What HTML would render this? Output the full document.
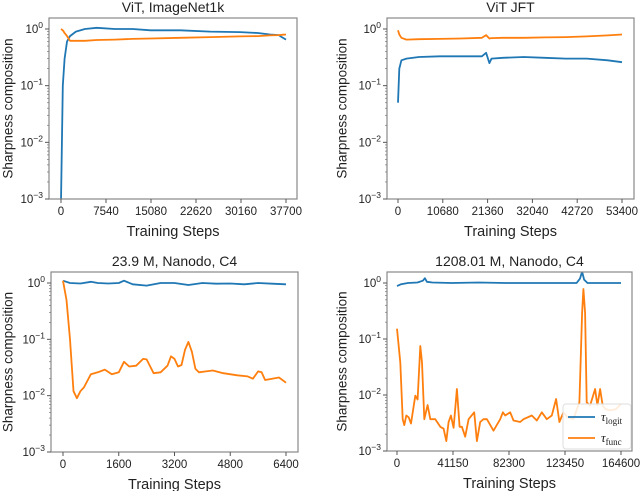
<!DOCTYPE html>
<html><head><meta charset="utf-8"><style>
body{margin:0;background:#fff;}
svg{display:block;font-family:"Liberation Sans","DejaVu Sans",sans-serif;}
</style></head><body>
<svg id="fig" width="640" height="491" viewBox="0 0 640 491"></svg>
<script>
// ---- Data (top-level arrays) ----
const vitInX=[0,300,600,1000,1500,2500,4000,6000,9000,12000,15000,20000,25000,30000,33000,35000,36500,37000,37700];
const vitInLogit=[0.0009,0.1,0.3,0.6,0.75,0.9,1.0,1.05,1.0,1.0,0.95,0.95,0.9,0.88,0.85,0.8,0.78,0.72,0.65];
const vitInFunc=[1.0,0.95,0.85,0.75,0.62,0.62,0.62,0.64,0.65,0.67,0.68,0.7,0.72,0.74,0.75,0.77,0.78,0.79,0.8];
const vitInTicks=[0,7540,15080,22620,30160,37700];

const jftX=[0,300,800,2000,5000,10000,15000,20000,21000,21800,22300,25000,30000,35000,40000,45000,50000,53400];
const jftLogit=[0.05,0.2,0.28,0.3,0.32,0.33,0.33,0.33,0.38,0.25,0.3,0.31,0.32,0.31,0.3,0.3,0.28,0.26];
const jftFunc=[0.95,0.8,0.7,0.65,0.66,0.67,0.68,0.7,0.78,0.68,0.69,0.7,0.7,0.71,0.72,0.74,0.77,0.8];
const jftTicks=[0,10680,21360,32040,42720,53400];

const smallLogitX=[0,200,500,800,1000,1300,1600,1750,2000,2400,2800,3200,3600,4000,4400,4800,5200,5600,6000,6400];
const smallLogit=[1.1,1.0,0.98,1.05,1.0,0.98,1.0,1.1,0.95,0.9,1.0,1.0,0.92,1.0,0.97,0.98,0.95,1.0,0.97,0.95];
const smallFuncX=[0,100,200,300,400,500,600,800,1000,1200,1400,1600,1750,1900,2100,2300,2400,2600,2800,3000,3100,3200,3300,3400,3500,3600,3700,3800,3900,4100,4300,4600,5000,5300,5450,5600,5700,5800,6000,6200,6400];
const smallFunc=[1.1,0.5,0.1,0.012,0.009,0.012,0.014,0.024,0.026,0.029,0.024,0.026,0.04,0.033,0.034,0.045,0.044,0.025,0.026,0.034,0.05,0.045,0.033,0.035,0.065,0.09,0.06,0.03,0.026,0.027,0.028,0.025,0.023,0.022,0.02,0.027,0.026,0.019,0.02,0.021,0.017];
const smallTicks=[0,1600,3200,4800,6400];

const bigLogitX=[0,3000,8000,15000,19000,20500,22000,26000,40000,60000,80000,100000,120000,132000,134500,136000,137500,140000,150000,164600];
const bigLogit=[0.88,0.95,1.0,1.02,1.1,1.22,1.05,1.02,1.0,1.02,1.0,1.0,1.0,1.0,1.2,1.6,1.15,1.0,1.0,1.0];
const bigFuncX=[0,2446,4158,5381,6849,8561,10273,13453,15165,17122,18345,20057,22503,24460,28129,31798,34244,36201,37913,39625,41582,44028,45985,47697,50143,52589,56747,58704,61150,63596,66042,70934,75826,77783,79495,83164,85610,90502,92948,99063,102732,106401,110070,113739,116919,119365,122300,125235,129638,134041,135998,136976,138199,139422,141868,145537,147249,149206,151163,153119,156544,160947,164600];
const bigFunc=[0.153,0.038,0.0037,0.0029,0.0043,0.004,0.0031,0.0097,0.0083,0.075,0.038,0.0037,0.0066,0.0037,0.0037,0.0027,0.0025,0.0015,0.0033,0.0043,0.0026,0.0128,0.0027,0.0027,0.0018,0.0037,0.0049,0.0015,0.0033,0.0037,0.0037,0.0023,0.0037,0.0049,0.0043,0.0049,0.0035,0.0033,0.0037,0.0043,0.0035,0.0049,0.0037,0.0043,0.0085,0.0033,0.0049,0.004,0.0037,0.0074,0.29,0.78,0.29,0.0074,0.0065,0.0128,0.0065,0.0128,0.0065,0.0056,0.0053,0.0056,0.0069];
const bigTicks=[0,41150,82300,123450,164600];

const titles=["ViT, ImageNet1k","ViT JFT","23.9 M, Nanodo, C4","1208.01 M, Nanodo, C4"];

// ---- Drawing ----
const NS="http://www.w3.org/2000/svg";
const fig=document.getElementById('fig');
const BLUE="#1f77b4",ORANGE="#ff7f0e";
function mk(tag,attrs,parent){const e=document.createElementNS(NS,tag);for(const k in attrs)e.setAttribute(k,attrs[k]);(parent||fig).appendChild(e);return e;}

const panels=[
 {box:[49,18,297,199],x0:61,x1:286,xmax:37700,ylab:8,series:[[vitInX,vitInLogit,BLUE],[vitInX,vitInFunc,ORANGE]],ticks:vitInTicks,title:titles[0],key:'vit-imagenet'},
 {box:[387,18,634,199],x0:398,x1:622,xmax:53400,ylab:342,series:[[jftX,jftLogit,BLUE],[jftX,jftFunc,ORANGE]],ticks:jftTicks,title:titles[1],key:'vit-jft'},
 {box:[51,272,298,452],x0:63,x1:286,xmax:6400,ylab:8,series:[[smallLogitX,smallLogit,BLUE],[smallFuncX,smallFunc,ORANGE]],ticks:smallTicks,title:titles[2],key:'nanodo-small'},
 {box:[387,272,632,451],x0:397,x1:621,xmax:164600,ylab:342,series:[[bigLogitX,bigLogit,BLUE],[bigFuncX,bigFunc,ORANGE]],ticks:bigTicks,title:titles[3],key:'nanodo-large',legend:true}
];

panels.forEach((p,i)=>{
 const [L,T,R,B]=p.box;
 const y0=T+11, decade=(B-y0)/3;
 const xs=v=>p.x0+(p.x1-p.x0)*v/p.xmax;
 const ys=v=>y0+(-Math.log10(v))*decade;
 const g=mk('g',{});
 
 
 const cid='clip'+i;
 const cp=mk('clipPath',{id:cid},g);mk('rect',{x:L,y:T,width:R-L,height:B-T},cp);
 const t=mk('text',{x:(L+R)/2,y:T-6,'text-anchor':'middle','font-size':14,fill:'#222'},g);t.textContent=p.title;
 
 
 p.series.forEach((s,si)=>{
  const d=s[0].map((x,k)=>(k?'L':'M')+xs(x).toFixed(1)+','+ys(s[1][k]).toFixed(1)).join('');
  const pa=mk('path',{d:d,fill:'none',stroke:s[2],'stroke-width':1.8,'stroke-linejoin':'round','clip-path':'url(#'+cid+')'},g);
  
  
 });
 const fr=mk('rect',{x:L,y:T,width:R-L,height:B-T,fill:'none',stroke:'#888','stroke-width':1.2},g);
 
 
 for(let e=0;e>=-3;e--){
  const y=ys(Math.pow(10,e));
  mk('line',{x1:L-4,x2:L,y1:y,y2:y,stroke:'#555'},g);
  const tx=mk('text',{x:L-6,y:y+4,'text-anchor':'end','font-size':11.5,fill:'#222'},g);
  tx.innerHTML='10<tspan dy="-5" font-size="8.5">'+(e===0?'0':'\u2212'+(-e))+'</tspan>';
  
  
 }
 for(let e=-3;e<=0;e++)for(let m=2;m<=9;m++){const v=m*Math.pow(10,e);const y=ys(v);if(y<T)continue;mk('line',{x1:L-2,x2:L,y1:y,y2:y,stroke:'#777','stroke-width':0.7},g);}
 p.ticks.forEach(v=>{
  const x=xs(v);mk('line',{x1:x,x2:x,y1:B,y2:B+4,stroke:'#555'},g);
  const tx=mk('text',{x:x,y:B+16,'text-anchor':'middle','font-size':11.5,fill:'#222'},g);tx.textContent=v;
  
  
 });
 const xl=mk('text',{x:(L+R)/2,y:B+37,'text-anchor':'middle','font-size':14.5,fill:'#222'},g);xl.textContent='Training Steps';
 
 
 const yc=(T+B)/2;
 const yl=mk('text',{x:p.ylab,y:yc,'text-anchor':'middle','dominant-baseline':'central','font-size':13.5,fill:'#222',transform:'rotate(-90 '+p.ylab+' '+yc+')'},g);yl.textContent='Sharpness composition';
 
 
 if(p.legend){
  const lg=mk('g',{},g);
  
  
  mk('rect',{x:563,y:404,width:68,height:45,rx:3,fill:'#fff','fill-opacity':0.85,stroke:'#ddd'},lg);
  [[BLUE,'logit',421],[ORANGE,'func',442]].forEach(([c,sub,y])=>{
   const ln=mk('line',{x1:568,x2:595,y1:y-4,y2:y-4,stroke:c,'stroke-width':1.8},lg);
   
   
   const tx=mk('text',{x:601,y:y,'font-size':13,'font-family':'Liberation Serif, serif',fill:'#222'},lg);
   tx.innerHTML='<tspan font-style="italic">\u03C4</tspan><tspan dy="3" font-size="9">'+sub+'</tspan>';
   
   
  });
 }
});
</script>
</body></html>
